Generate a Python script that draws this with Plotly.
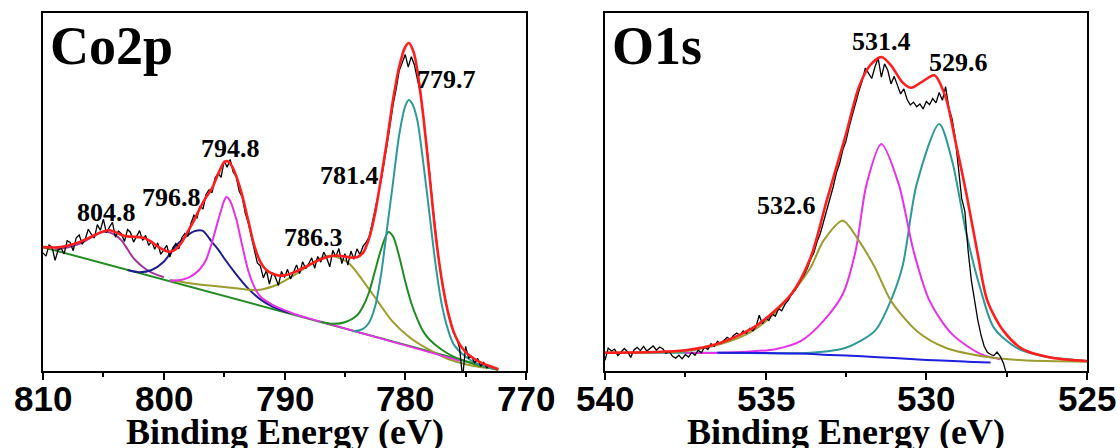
import numpy as np
import plotly.graph_objects as go

# ---------------- Co 2p region ----------------
CO_START, CO_STEP = 810.0, 0.25
co_counts = [
    33.0, 32.1, 35.2, 34.6, 30.9, 33.8, 34.3, 32.7, 36.4, 35.9, 33.6, 37.2, 38.0, 35.4, 36.8, 39.6,
    38.2, 37.1, 40.9, 39.3, 42.4, 38.6, 40.2, 41.5, 37.4, 39.1, 38.3, 36.2, 39.5, 38.7, 36.0, 37.6,
    39.2, 36.5, 37.9, 35.1, 36.3, 34.0, 35.8, 32.6, 33.9, 35.1, 31.8, 34.4, 35.6, 34.1, 37.3, 38.4,
    37.6, 41.2, 43.5, 42.7, 46.1, 45.2, 49.3, 50.6, 49.8, 53.9, 55.2, 54.1, 58.7, 56.9, 59.1, 55.6,
    54.3, 50.2, 48.6, 44.1, 41.3, 37.5, 34.6, 30.2, 29.4, 26.0, 28.1, 24.3, 27.5, 26.2, 23.9, 27.8,
    26.1, 28.4, 25.7, 27.9, 29.6, 27.2, 30.5, 28.6, 29.9, 31.6, 28.7, 32.0, 30.4, 33.2, 31.5, 29.1,
    33.7, 31.9, 34.2, 30.0, 32.8, 29.6, 33.5, 31.2, 34.1, 32.5, 34.8, 35.9, 37.4, 41.0, 44.6, 49.1,
    53.2, 59.0, 63.4, 68.9, 74.6, 78.8, 83.9, 86.1, 88.4, 84.9, 87.8, 85.6, 81.7, 77.6, 71.4, 64.0,
    55.9, 47.1, 38.8, 31.9, 25.8, 21.3, 16.9, 14.0, 10.7, 9.2, 6.4, -2.0, 6.9, 3.6, 4.1, 2.2,
    3.5, 1.3, 2.4, 0.9, 1.6,
]
co_energy = CO_START - CO_STEP * np.arange(len(co_counts))

co_bg_e = [810.0, 772.3]
co_bg_y = [34.6, 0.3]

co_env_e = [810, 809, 808, 807, 806, 805, 804.5, 804, 803.5, 803, 802.5, 802, 801.5, 801, 800.5, 800,
            799.5, 799, 798.5, 798, 797.5, 797, 796.5, 796, 795.5, 795, 794.7, 794.4, 794, 793.5, 793,
            792.5, 792, 791.5, 791, 790.5, 790, 789.5, 789, 788.5, 788, 787.5, 787, 786.5, 786, 785.5,
            785, 784.5, 784, 783.5, 783, 782.5, 782, 781.5, 781, 780.5, 780, 779.7, 779.3, 779, 778.5,
            778, 777.5, 777, 776.5, 776, 775.5, 775, 774.5, 774, 773.5, 773, 772.3]
co_env_y = [34.6, 34.5, 35.0, 36.0, 37.5, 39.0, 39.3, 38.8, 38.0, 37.6, 37.5, 37.4, 37.0, 36.0, 34.8, 33.8,
            33.3, 34.0, 36.0, 39.0, 42.0, 45.5, 48.5, 51.0, 55.0, 58.3, 58.6, 57.5, 54.5, 49.0, 42.0,
            35.0, 30.5, 28.2, 27.2, 26.7, 26.7, 27.2, 27.9, 28.7, 29.5, 30.4, 31.2, 31.8, 32.2, 32.2,
            32.0, 31.7, 31.8, 33.0, 37.0, 44.0, 54.0, 64.5, 76.0, 85.0, 90.5, 91.6, 89.0, 84.0, 71.0,
            55.0, 38.5, 26.0, 17.0, 11.0, 7.5, 5.3, 3.9, 2.8, 2.0, 1.4, 0.5]

# each component is drawn on top of the background
co_p8048_e = [809, 808, 807, 806, 805.3, 804.8, 804.2, 803.5, 803, 802.5, 802, 801.5, 801, 800.5, 800]
co_p8048_y = [34.0, 34.5, 35.5, 37.3, 38.6, 38.9, 38.3, 36.5, 34.0, 31.5, 29.8, 28.5, 27.5, 26.8, 26.2]

co_p7968_e = [803, 802, 801, 800, 799, 798, 797.5, 796.8, 796, 795.5, 795, 794, 793, 792, 791, 790, 789.5]
co_p7968_y = [28.2, 27.6, 28.2, 30.5, 35.0, 38.0, 39.0, 39.2, 36.0, 34.0, 31.5, 27.0, 23.0, 20.0, 18.0, 16.7, 16.3]

co_p7948_e = [799.5, 798.5, 798, 797.5, 797, 796.5, 796, 795.5, 795, 794.8, 794.5, 794, 793.5, 793, 792.5,
              792, 791, 790, 789, 788, 787, 775.5]
co_p7948_y = [25.2, 25.5, 26.0, 27.0, 28.5, 31.0, 36.0, 42.0, 47.5, 48.6, 47.5, 42.5, 35.0, 28.0, 23.5,
              20.8, 18.5, 17.0, 15.7, 14.7, 13.8, 2.9]

co_p7863_e = [799.5, 798, 796, 794, 792.3, 791, 790, 789, 788.2, 787.2, 786.3, 785.5, 784.6, 783.5, 782.3,
              781.1, 779.6, 778.1, 776.4, 774.3, 772.3]
co_p7863_y = [25.4, 24.6, 23.8, 23.1, 22.6, 23.6, 25.2, 27.2, 29.0, 31.2, 32.2, 31.6, 29.9, 25.2, 19.6,
              14.0, 9.3, 6.1, 3.3, 1.4, 0.5]

co_p7814_e = [787, 786, 785, 784, 783.5, 783, 782.5, 782, 781.4, 781, 780.5, 780, 779.5, 779, 778.5, 778,
              777, 776, 775, 774, 773, 772.3]
co_p7814_y = [13.8, 13.2, 13.6, 15.5, 18.0, 22.0, 28.0, 34.0, 38.8, 37.5, 32.0, 25.0, 19.0, 14.5, 11.0,
              8.8, 6.0, 4.0, 2.7, 1.7, 0.9, 0.4]

co_p7797_e = [784.3, 783.5, 783, 782.5, 782, 781.5, 781, 780.5, 780, 779.7, 779.4, 779, 778.5, 778, 777.5,
              777, 776.5, 776, 775, 774, 773, 772.3]
co_p7797_y = [11.1, 11.8, 13.5, 18.0, 27.0, 40.0, 53.0, 66.0, 74.0, 75.7, 74.5, 70.0, 58.0, 44.0, 30.0,
              19.0, 12.0, 7.5, 4.0, 2.0, 0.9, 0.5]

co_centers = [804.8, 796.8, 794.8, 786.3, 781.4, 779.7]
co_label_x = [804.74, 799.36, 794.48, 787.59, 784.58, 776.6]
co_label_y = [44.4, 48.6, 62.1, 37.4, 54.5, 81.3]
co_ticks = [810, 800, 790, 780, 770]
co_minor = [805, 795, 785, 775]

# ---------------- O 1s region ----------------
O_START, O_STEP = 540.0, 0.1
o_counts = [
    3.0, 6.4, 5.6, 6.1, 4.3, 5.2, 6.3, 5.4, 3.8, 5.9, 6.6, 5.7, 6.9, 5.6, 6.4, 7.0, 5.8, 6.7, 6.2, 4.9,
    5.5, 4.1, 3.6, 4.4, 3.4, 4.6, 3.9, 5.2, 4.4, 5.8, 5.1, 6.7, 6.0, 7.6, 6.9, 8.3, 7.7, 8.6, 9.4, 8.8,
    9.9, 10.6, 10.0, 11.2, 10.5, 11.9, 11.3, 12.4, 15.6, 13.2, 14.8, 14.1, 16.0, 15.3, 17.4, 16.8, 18.6,
    19.7, 21.3, 22.4, 23.8, 25.6, 26.9, 28.8, 31.2, 33.0, 36.1, 38.4, 41.6, 44.7, 48.2, 51.4, 55.3, 57.9,
    61.8, 64.2, 68.3, 71.6, 75.2, 78.1, 80.9, 84.6, 83.2, 81.7, 84.9, 87.4, 82.1, 85.8, 84.0, 80.2, 82.3,
    79.6, 77.4, 78.8, 75.9, 74.3, 75.1, 73.8, 74.6, 73.2, 75.3, 74.4, 76.1, 74.9, 77.8, 75.6, 79.4, 73.5,
    70.4, 65.1, 57.3, 48.2, 44.5, 33.6, 25.4, 19.8, 14.3, 10.1, 6.9, 5.2, 4.6, 4.3, 5.3, 4.1, 2.2, -1.0,
]
o_energy = O_START - O_STEP * np.arange(len(o_counts))

o_bg_e = [536.5, 535, 534, 533, 532, 531, 530, 529, 528.5, 528.0]
o_bg_y = [5.1, 5.0, 4.9, 4.5, 4.1, 3.6, 3.1, 2.7, 2.5, 2.4]

o_env_e = [540, 537.5, 536.4, 535.3, 534.2, 533.6, 533.1, 532.5, 532.1, 531.75, 531.4, 531.1, 530.75,
           530.47, 530.1, 529.75, 529.4, 529.1, 528.75, 528.4, 528.1, 527.6, 527.0, 526.1, 525.0]
o_env_y = [5.1, 5.8, 7.9, 12.6, 21.5, 31.7, 47.6, 66.2, 79.3, 85.4, 87.7, 85.4, 80.7, 79.1, 81.0, 82.6,
           76.5, 64.4, 49.4, 32.6, 19.6, 11.2, 6.1, 3.7, 2.8]

o_p5326_e = [540, 537.5, 536.4, 535.4, 534.75, 534.2, 533.6, 533.2, 532.6, 532.1, 531.6, 531.1, 530.3,
             529.4, 528.1, 527.0, 525.0]
o_p5326_y = [5.1, 5.6, 7.5, 11.2, 15.9, 21.5, 28.9, 36.4, 42.0, 36.4, 28.9, 19.6, 11.2, 6.5, 3.9, 3.0, 2.6]

o_p5314_e = [537.5, 536.4, 534.7, 533.9, 533.2, 532.6, 532.2, 531.86, 531.4, 530.86, 530.4, 529.9, 529.2,
             528.3, 527.7]
o_p5314_y = [5.1, 5.1, 6.1, 8.4, 14.0, 21.5, 33.6, 52.2, 63.4, 52.2, 33.6, 19.6, 10.3, 4.7, 3.3]

o_p5296_e = [540, 536.5, 533.6, 532.5, 531.6, 531.2, 530.75, 530.3, 529.6, 529.2, 528.75, 528.3, 527.9,
             527.2, 526.4, 525.0]
o_p5296_y = [5.1, 5.1, 5.1, 6.5, 11.2, 17.7, 28.9, 52.2, 69.0, 58.8, 38.2, 22.4, 12.1, 6.5, 4.2, 2.8]

o_centers = [531.4, 529.6, 532.6]
o_label_x = [531.40, 529.0, 534.34]
o_label_y = [91.9, 86.3, 46.2]
o_ticks = [540, 535, 530, 525]
o_minor = [537.5, 532.5, 527.5]

# ---------------- styling ----------------
RED = "#FF1E1E"
TEAL = "#2E9999"
GREEN = "#228B22"
OLIVE = "#9C9C2E"
MAGENTA = "#E632E6"
NAVY = "#1E1E8C"
PURPLE = "#A2339A"
BLUE = "#1F1FE0"
SERIF = "Liberation Serif"
SANS = "Liberation Sans"

W, H = 1120, 448
PLOT_TOP, PLOT_BOTTOM = 13, 371
LEFT_X = (43, 526)
RIGHT_X = (605, 1087)

fig = go.Figure()


def add_line(x, y, color, width, xa, ya, smooth=True):
    fig.add_trace(go.Scatter(
        x=list(x), y=list(y), mode="lines", xaxis=xa, yaxis=ya,
        line=dict(color=color, width=width, shape="spline" if smooth else "linear",
                  smoothing=0.8),
        hoverinfo="skip", showlegend=False,
    ))


# Co 2p panel
add_line(co_bg_e, co_bg_y, GREEN, 2, "x", "y", smooth=False)
add_line(co_p8048_e, co_p8048_y, PURPLE, 2, "x", "y")
add_line(co_p7968_e, co_p7968_y, NAVY, 2, "x", "y")
add_line(co_p7863_e, co_p7863_y, OLIVE, 2, "x", "y")
add_line(co_p7948_e, co_p7948_y, MAGENTA, 2, "x", "y")
add_line(co_p7814_e, co_p7814_y, GREEN, 2, "x", "y")
add_line(co_p7797_e, co_p7797_y, TEAL, 2, "x", "y")
add_line(co_energy, co_counts, "black", 1.3, "x", "y", smooth=False)
add_line(co_env_e, co_env_y, RED, 2.6, "x", "y")

# O 1s panel
add_line(o_p5296_e, o_p5296_y, TEAL, 2, "x2", "y2")
add_line(o_p5314_e, o_p5314_y, MAGENTA, 2, "x2", "y2")
add_line(o_bg_e, o_bg_y, BLUE, 2, "x2", "y2")
add_line(o_p5326_e, o_p5326_y, OLIVE, 2, "x2", "y2")
add_line(o_energy, o_counts, "black", 1.3, "x2", "y2", smooth=False)
add_line(o_env_e, o_env_y, RED, 2.6, "x2", "y2")

xaxis_common = dict(
    showline=True, mirror=True, linecolor="black", linewidth=2,
    ticks="outside", ticklen=7, tickwidth=2, tickcolor="black",
    showticklabels=False, showgrid=False, zeroline=False,
)
yaxis_common = dict(
    showline=True, mirror=True, linecolor="black", linewidth=2,
    ticks="", showticklabels=False, showgrid=False, zeroline=False,
    range=[0, 100],
)

Y_DOMAIN = [1 - PLOT_BOTTOM / H, 1 - PLOT_TOP / H]

fig.update_layout(
    width=W, height=H, autosize=False,
    margin=dict(l=0, r=0, t=0, b=0, autoexpand=False),
    paper_bgcolor="white", plot_bgcolor="white",
    xaxis=dict(domain=[LEFT_X[0] / W, LEFT_X[1] / W], range=[810, 770], tickvals=co_ticks,
               minor=dict(tickvals=co_minor, ticklen=4, tickwidth=2, tickcolor="black",
                          ticks="outside"),
               anchor="y", **xaxis_common),
    yaxis=dict(domain=Y_DOMAIN, anchor="x", **yaxis_common),
    xaxis2=dict(domain=[RIGHT_X[0] / W, RIGHT_X[1] / W], range=[540, 525], tickvals=o_ticks,
                minor=dict(tickvals=o_minor, ticklen=4, tickwidth=2, tickcolor="black",
                           ticks="outside"),
                anchor="y2", **xaxis_common),
    yaxis2=dict(domain=Y_DOMAIN, anchor="x2", **yaxis_common),
)

annotations = []
tick_font = dict(family=SANS, size=35, color="black", weight="bold")
# tick labels placed under the tick marks
for xr, ticks in (("x", co_ticks), ("x2", o_ticks)):
    for t in ticks:
        annotations.append(dict(text=str(t), x=t, y=1 - 398 / H, xref=xr, yref="paper",
                                xanchor="center", yanchor="middle", showarrow=False,
                                font=tick_font))
# panel names
for name, px in (("Co2p", 48), ("O1s", 610)):
    annotations.append(dict(text=name, x=px / W, y=1 - 46 / H, xref="paper", yref="paper",
                            xanchor="left", yanchor="middle", showarrow=False,
                            font=dict(family=SERIF, size=54, color="black", weight="bold")))
# axis titles
for x0, x1 in (LEFT_X, RIGHT_X):
    annotations.append(dict(text="Binding Energy (eV)", x=(x0 + x1) / 2 / W, y=1 - 432 / H,
                            xref="paper", yref="paper", xanchor="center", yanchor="middle",
                            showarrow=False,
                            font=dict(family=SERIF, size=36, color="black", weight="bold")))
# peak position labels
for xr, yr, centers, lxs, lys in (("x", "y", co_centers, co_label_x, co_label_y),
                                   ("x2", "y2", o_centers, o_label_x, o_label_y)):
    for c, lx, ly in zip(centers, lxs, lys):
        annotations.append(dict(text=f"{c:.1f}", x=lx, y=ly, xref=xr, yref=yr, showarrow=False,
                                xanchor="center", yanchor="middle",
                                font=dict(family=SERIF, size=26, color="black", weight="bold")))
fig.update_layout(annotations=annotations)

fig.write_html("out.html")
